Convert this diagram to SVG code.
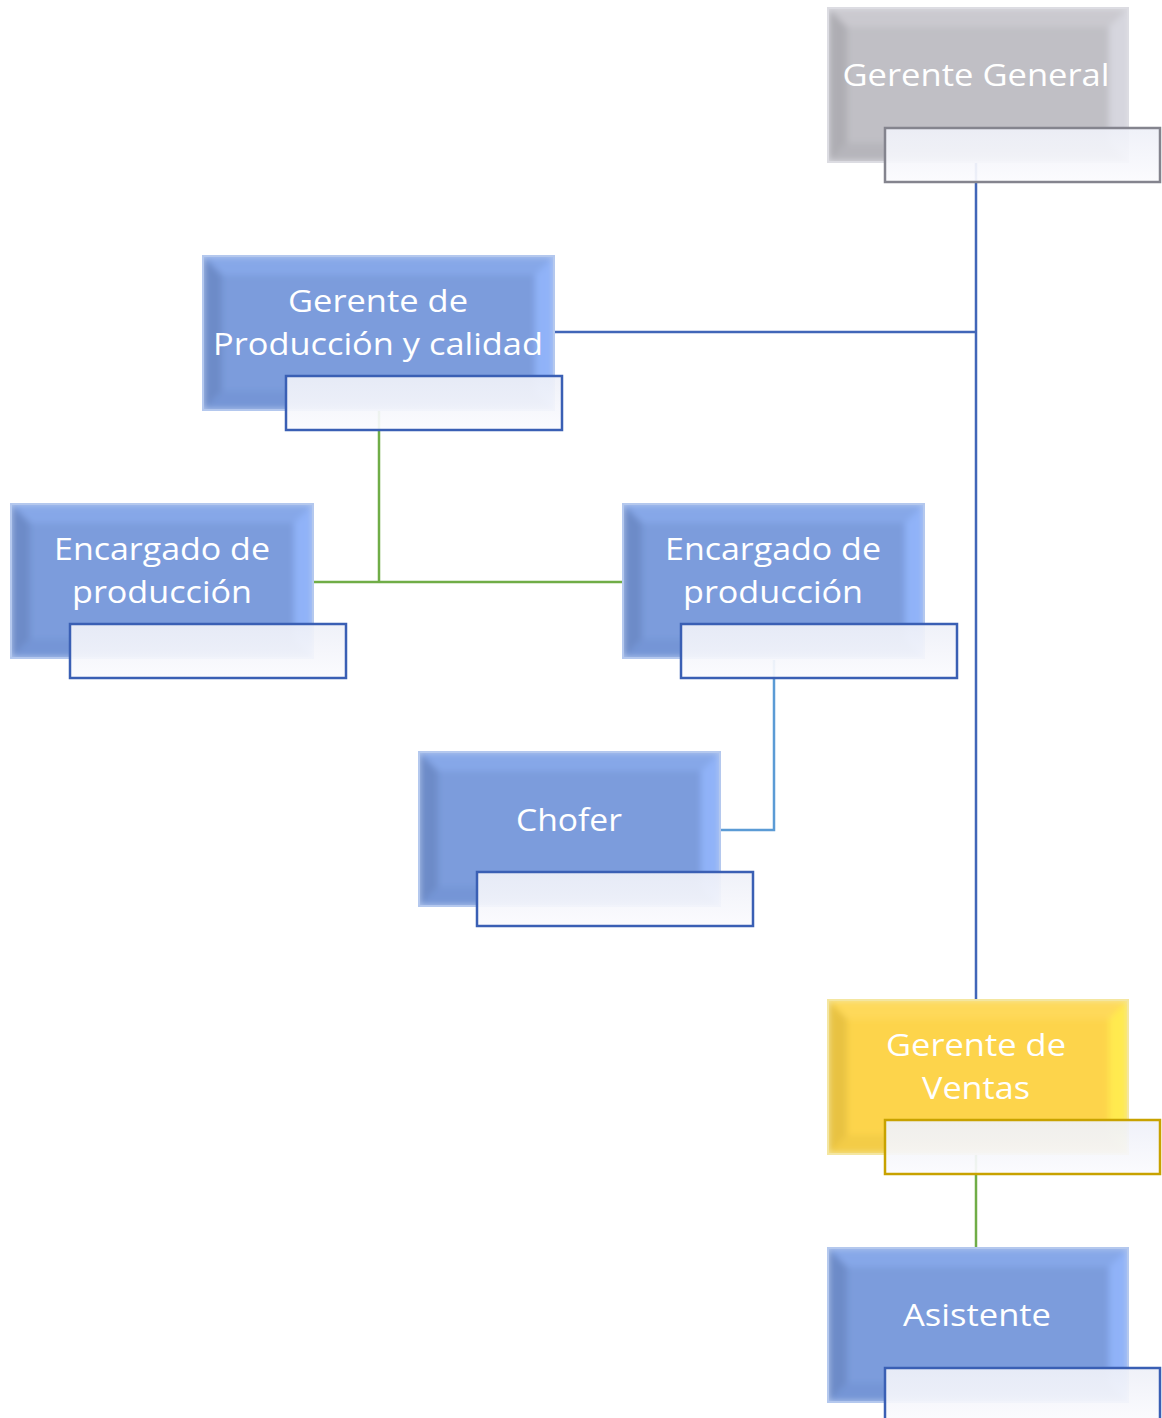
<svg xmlns="http://www.w3.org/2000/svg" width="1162" height="1418" viewBox="0 0 1162 1418">
  <style>
    .lbl { font-family: "Open Sans", "Liberation Sans", sans-serif; font-size: 31px; fill: #ffffff; text-anchor: middle; }
    .tag { fill-opacity: 0.93; stroke-width: 2.5; }
    .conn { fill: none; stroke-width: 2.5; }
    .bevel { clip-path: url(#boxClip); }
    .bevel > g { filter: url(#soft); }
  </style>
  <defs>
    <linearGradient id="tagShade" x1="0" y1="0" x2="0" y2="1">
      <stop offset="0" stop-color="#eef0f8"/>
      <stop offset="1" stop-color="#fbfbfe"/>
    </linearGradient>
    <clipPath id="boxClip" clipPathUnits="objectBoundingBox">
      <rect x="0" y="0" width="1" height="1"/>
    </clipPath>
    <filter id="soft" x="-5%" y="-5%" width="110%" height="110%">
      <feGaussianBlur stdDeviation="3"/>
    </filter>
  </defs>

  <!-- connectors -->
  <g id="connectors">
    <path class="conn" d="M976 162 V1000 M554 332 H976" stroke="#4166b8"/>
    <path class="conn" d="M379 410 V582 M313 582 H623" stroke="#70ad47"/>
    <path class="conn" d="M774 660 V830 H720" stroke="#5b9bd5"/>
    <path class="conn" d="M976 1154 V1248" stroke="#70ad47"/>
  </g>

  <!-- Gerente General -->
  <g id="gerente-general">
    <rect x="827" y="7" width="302" height="156" fill="#dcdce2"/>
    <g class="bevel"><g>
      <rect x="829" y="9" width="298" height="152" fill="#c0bfc5"/>
      <polygon points="829,9 1127,9 1109,27 847,27" fill="#cac9cf"/>
      <polygon points="829,9 847,27 847,143 829,161" fill="#aeadb3"/>
      <polygon points="1127,9 1127,161 1109,143 1109,27" fill="#d6d6de"/>
      <polygon points="829,161 847,143 1109,143 1127,161" fill="#b6b5bb"/>
      <rect x="847" y="27" width="262" height="116" fill="#c0bfc5"/>
    </g></g>
    <text class="lbl" x="976" y="86" textLength="267" lengthAdjust="spacingAndGlyphs">Gerente General</text>
    <rect class="tag" x="885" y="128" width="275" height="54" fill="url(#tagShade)" stroke="#84848e"/>
  </g>

  <!-- Gerente de Producción y calidad -->
  <g id="gerente-produccion">
    <rect x="202" y="255" width="353" height="156" fill="#b4c8ee"/>
    <g class="bevel"><g>
      <rect x="204" y="257" width="349" height="152" fill="#7b9cdc"/>
      <polygon points="204,257 553,257 535,275 222,275" fill="#86a7e8"/>
      <polygon points="204,257 222,275 222,391 204,409" fill="#6d8bc8"/>
      <polygon points="553,257 553,409 535,391 535,275" fill="#90b2f8"/>
      <polygon points="204,409 222,391 535,391 553,409" fill="#7595d6"/>
      <rect x="222" y="275" width="313" height="116" fill="#7b9cdc"/>
    </g></g>
    <text class="lbl" x="378" y="312" textLength="180" lengthAdjust="spacingAndGlyphs">Gerente de</text>
    <text class="lbl" x="378" y="355" textLength="330" lengthAdjust="spacingAndGlyphs">Producción y calidad</text>
    <rect class="tag" x="286" y="376" width="276" height="54" fill="url(#tagShade)" stroke="#3a5fb4"/>
  </g>

  <!-- Encargado de producción (izquierda) -->
  <g id="encargado-izq">
    <rect x="10" y="503" width="304" height="156" fill="#b4c8ee"/>
    <g class="bevel"><g>
      <rect x="12" y="505" width="300" height="152" fill="#7b9cdc"/>
      <polygon points="12,505 312,505 294,523 30,523" fill="#86a7e8"/>
      <polygon points="12,505 30,523 30,639 12,657" fill="#6d8bc8"/>
      <polygon points="312,505 312,657 294,639 294,523" fill="#90b2f8"/>
      <polygon points="12,657 30,639 294,639 312,657" fill="#7595d6"/>
      <rect x="30" y="523" width="264" height="116" fill="#7b9cdc"/>
    </g></g>
    <text class="lbl" x="162" y="560" textLength="216" lengthAdjust="spacingAndGlyphs">Encargado de</text>
    <text class="lbl" x="162" y="603" textLength="180" lengthAdjust="spacingAndGlyphs">producción</text>
    <rect class="tag" x="70" y="624" width="276" height="54" fill="url(#tagShade)" stroke="#3a5fb4"/>
  </g>

  <!-- Encargado de producción (derecha) -->
  <g id="encargado-der">
    <rect x="622" y="503" width="303" height="156" fill="#b4c8ee"/>
    <g class="bevel"><g>
      <rect x="624" y="505" width="299" height="152" fill="#7b9cdc"/>
      <polygon points="624,505 923,505 905,523 642,523" fill="#86a7e8"/>
      <polygon points="624,505 642,523 642,639 624,657" fill="#6d8bc8"/>
      <polygon points="923,505 923,657 905,639 905,523" fill="#90b2f8"/>
      <polygon points="624,657 642,639 905,639 923,657" fill="#7595d6"/>
      <rect x="642" y="523" width="263" height="116" fill="#7b9cdc"/>
    </g></g>
    <text class="lbl" x="773" y="560" textLength="216" lengthAdjust="spacingAndGlyphs">Encargado de</text>
    <text class="lbl" x="773" y="603" textLength="180" lengthAdjust="spacingAndGlyphs">producción</text>
    <rect class="tag" x="681" y="624" width="276" height="54" fill="url(#tagShade)" stroke="#3a5fb4"/>
  </g>

  <!-- Chofer -->
  <g id="chofer">
    <rect x="418" y="751" width="303" height="156" fill="#b4c8ee"/>
    <g class="bevel"><g>
      <rect x="420" y="753" width="299" height="152" fill="#7b9cdc"/>
      <polygon points="420,753 719,753 701,771 438,771" fill="#86a7e8"/>
      <polygon points="420,753 438,771 438,887 420,905" fill="#6d8bc8"/>
      <polygon points="719,753 719,905 701,887 701,771" fill="#90b2f8"/>
      <polygon points="420,905 438,887 701,887 719,905" fill="#7595d6"/>
      <rect x="438" y="771" width="263" height="116" fill="#7b9cdc"/>
    </g></g>
    <text class="lbl" x="569" y="831" textLength="106" lengthAdjust="spacingAndGlyphs">Chofer</text>
    <rect class="tag" x="477" y="872" width="276" height="54" fill="url(#tagShade)" stroke="#3a5fb4"/>
  </g>

  <!-- Gerente de Ventas -->
  <g id="gerente-ventas">
    <rect x="827" y="999" width="302" height="156" fill="#f4e6a0"/>
    <g class="bevel"><g>
      <rect x="829" y="1001" width="298" height="152" fill="#fdd44b"/>
      <polygon points="829,1001 1127,1001 1109,1019 847,1019" fill="#fed95a"/>
      <polygon points="829,1001 847,1019 847,1135 829,1153" fill="#e8c243"/>
      <polygon points="1127,1001 1127,1153 1109,1135 1109,1019" fill="#ffea50"/>
      <polygon points="829,1153 847,1135 1109,1135 1127,1153" fill="#f3cc47"/>
      <rect x="847" y="1019" width="262" height="116" fill="#fdd44b"/>
    </g></g>
    <text class="lbl" x="976" y="1056" textLength="180" lengthAdjust="spacingAndGlyphs">Gerente de</text>
    <text class="lbl" x="976" y="1099" textLength="108" lengthAdjust="spacingAndGlyphs">Ventas</text>
    <rect class="tag" x="885" y="1120" width="275" height="54" fill="url(#tagShade)" stroke="#c8a200"/>
  </g>

  <!-- Asistente -->
  <g id="asistente">
    <rect x="827" y="1247" width="302" height="156" fill="#b4c8ee"/>
    <g class="bevel"><g>
      <rect x="829" y="1249" width="298" height="152" fill="#7b9cdc"/>
      <polygon points="829,1249 1127,1249 1109,1267 847,1267" fill="#86a7e8"/>
      <polygon points="829,1249 847,1267 847,1383 829,1401" fill="#6d8bc8"/>
      <polygon points="1127,1249 1127,1401 1109,1383 1109,1267" fill="#90b2f8"/>
      <polygon points="829,1401 847,1383 1109,1383 1127,1401" fill="#7595d6"/>
      <rect x="847" y="1267" width="262" height="116" fill="#7b9cdc"/>
    </g></g>
    <text class="lbl" x="977" y="1326" textLength="148" lengthAdjust="spacingAndGlyphs">Asistente</text>
    <rect class="tag" x="885" y="1368" width="275" height="54" fill="url(#tagShade)" stroke="#3a5fb4"/>
  </g>
</svg>
